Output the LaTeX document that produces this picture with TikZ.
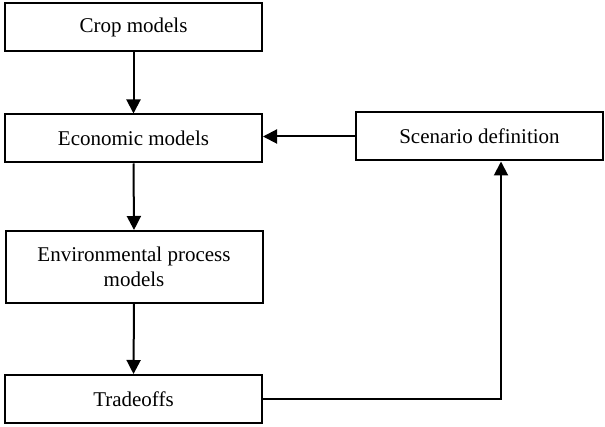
\documentclass[tikz,border=0pt]{standalone}
\usepackage{fontspec}
\setmainfont{Liberation Serif}
\usetikzlibrary{arrows.meta}

\begin{document}
\begin{tikzpicture}[x=0.5pt, y=-0.5pt,
    modelbox/.style={draw, line width=1pt, minimum width=128.5pt, minimum height=24pt,
        inner sep=0pt, align=center, font=\fontsize{10.5}{12.5}\selectfont},
    flow/.style={-{Triangle[length=7pt, width=7pt]}, line width=1pt}]
    % fixed frame
    \useasboundingbox (0,0) rectangle (605,427);

    % model boxes
    \node[modelbox] (crop) at (133.5, 27) {Crop models};
    \node[modelbox] (econ) at (133.5, 138.5) {Economic models};
    \node[modelbox, minimum width=123.5pt] (scen) at (479.5, 136.5) {Scenario definition};
    \node[modelbox, minimum height=36pt] (env) at (134, 267) {Environmental process\\models};
    \node[modelbox] (trade) at (133.5, 399) {Tradeoffs};

    % chain down the left
    \draw[flow] (crop.south) -- (econ.north);
    \draw[flow] (econ.south) -- (env.north);
    \draw[flow] (env.south) -- (trade.north);

    % scenario feeds the economic models
    \draw[flow] (scen.west) -- (scen.west -| econ.east);

    % tradeoffs loop back to the scenario
    \coordinate (turn) at (501, 399);
    \draw[flow] (trade.east) -- (turn) -- (turn |- scen.south);
\end{tikzpicture}
\end{document}
